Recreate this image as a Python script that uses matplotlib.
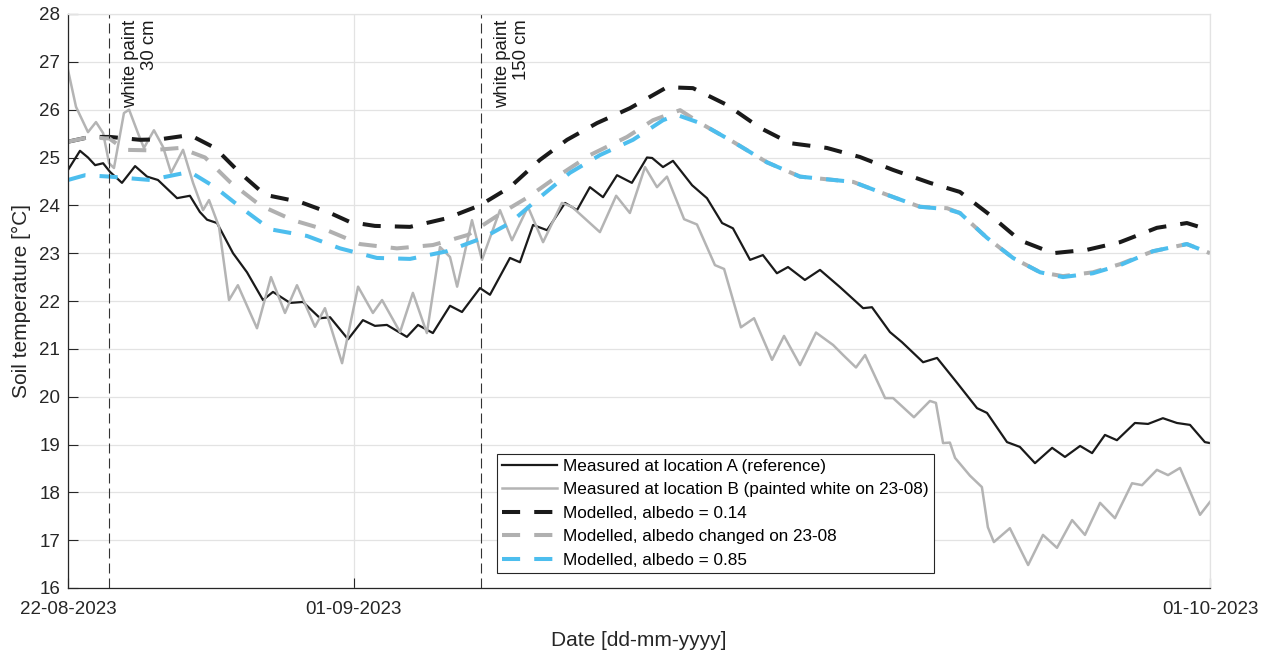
import numpy as np
import pandas as pd
import matplotlib
matplotlib.use("Agg")
import matplotlib.pyplot as plt
import matplotlib.dates as mdates

plt.rcParams["font.family"] = ["Liberation Sans", "DejaVu Sans"]

start = pd.Timestamp("2023-08-22")

# days since 22-08-2023 00:00 and soil temperature [degC]
days_A = [0.00, 0.42, 0.70, 0.95, 1.23, 1.47, 1.89, 2.35, 2.77, 3.15, 3.82, 4.27, 4.62, 4.87, 5.22,
          5.78, 6.27, 6.83, 7.18, 7.78, 8.23, 8.83, 9.18, 9.81, 10.33, 10.75, 11.17, 11.87, 12.26,
          12.78, 13.38, 13.80, 14.43, 14.78, 15.48, 15.83, 16.29, 16.78, 17.41, 17.83, 18.28, 18.74,
          19.23, 19.75, 20.28, 20.46, 20.84, 21.19, 21.86, 22.38, 22.91, 23.29, 23.89, 24.34, 24.83,
          25.22, 25.81, 26.34, 27.04, 27.85, 28.16, 28.79, 29.21, 29.95, 30.44, 31.14, 31.84, 32.19,
          32.89, 33.34, 33.87, 34.47, 34.92, 35.45, 35.87, 36.32, 36.74, 37.37, 37.83, 38.35, 38.84,
          39.30, 39.82, 40.00]
temp_A = [24.74, 25.14, 25.00, 24.84, 24.88, 24.70, 24.47, 24.82, 24.60, 24.53, 24.15, 24.20, 23.86,
          23.70, 23.63, 23.00, 22.60, 22.02, 22.19, 21.96, 21.98, 21.64, 21.66, 21.20, 21.60, 21.48,
          21.50, 21.25, 21.50, 21.33, 21.90, 21.77, 22.27, 22.13, 22.90, 22.81, 23.59, 23.48, 24.05,
          23.90, 24.38, 24.17, 24.63, 24.47, 25.00, 24.99, 24.80, 24.93, 24.42, 24.15, 23.63, 23.52,
          22.86, 22.96, 22.58, 22.71, 22.44, 22.65, 22.29, 21.85, 21.87, 21.35, 21.14, 20.72, 20.81,
          20.29, 19.76, 19.66, 19.05, 18.95, 18.61, 18.93, 18.74, 18.97, 18.82, 19.20, 19.09, 19.45,
          19.43, 19.55, 19.45, 19.41, 19.05, 19.03]

days_B = [0.00, 0.28, 0.70, 0.98, 1.23, 1.44, 1.61, 1.96, 2.14, 2.45, 2.66, 3.01, 3.33, 3.61, 4.03,
          4.38, 4.73, 4.94, 5.29, 5.64, 5.95, 6.62, 7.11, 7.60, 8.02, 8.65, 9.00, 9.60, 10.16, 10.68,
          11.00, 11.63, 12.08, 12.57, 13.03, 13.38, 13.63, 14.15, 14.50, 15.13, 15.55, 16.11, 16.64,
          17.30, 17.65, 18.63, 19.20, 19.68, 20.21, 20.63, 20.98, 21.58, 22.03, 22.66, 22.98, 23.57,
          24.03, 24.66, 25.08, 25.64, 26.20, 26.80, 27.15, 27.60, 27.92, 28.62, 28.90, 29.63, 30.19,
          30.40, 30.65, 30.89, 31.07, 31.59, 32.01, 32.22, 32.43, 32.99, 33.63, 34.15, 34.64, 35.17,
          35.62, 36.15, 36.67, 37.27, 37.62, 38.14, 38.53, 38.95, 39.65, 40.00]
temp_B = [26.83, 26.06, 25.53, 25.74, 25.51, 24.88, 24.78, 25.93, 26.00, 25.51, 25.20, 25.57, 25.22,
          24.68, 25.16, 24.47, 23.90, 24.11, 23.55, 22.02, 22.33, 21.43, 22.50, 21.75, 22.33, 21.46,
          21.85, 20.70, 22.30, 21.75, 22.02, 21.35, 22.17, 21.33, 23.13, 22.92, 22.30, 23.69, 22.86,
          23.90, 23.27, 23.97, 23.23, 24.05, 23.97, 23.44, 24.20, 23.84, 24.80, 24.38, 24.60, 23.71,
          23.60, 22.75, 22.67, 21.45, 21.64, 20.77, 21.27, 20.66, 21.34, 21.08, 20.87, 20.61, 20.87,
          19.97, 19.97, 19.57, 19.91, 19.87, 19.03, 19.04, 18.72, 18.35, 18.11, 17.27, 16.96, 17.25,
          16.48, 17.11, 16.84, 17.42, 17.11, 17.78, 17.46, 18.19, 18.15, 18.47, 18.36, 18.51, 17.53,
          17.80]

days_m014 = [0.00, 0.77, 1.47, 2.52, 3.22, 4.27, 5.15, 6.02, 6.90, 8.13, 9.18, 9.88, 10.75, 11.98,
             13.27, 14.43, 15.48, 16.53, 17.48, 18.53, 19.68, 20.98, 21.89, 23.08, 24.24, 25.29,
             26.58, 27.74, 28.90, 30.19, 31.24, 32.29, 33.34, 34.50, 35.69, 36.85, 38.14, 39.19, 40.00]
temp_m014 = [25.33, 25.43, 25.43, 25.37, 25.38, 25.47, 25.20, 24.68, 24.22, 24.07, 23.84, 23.65,
             23.57, 23.55, 23.73, 24.00, 24.38, 24.95, 25.37, 25.72, 26.03, 26.47, 26.45, 26.10,
             25.62, 25.30, 25.20, 25.01, 24.74, 24.47, 24.28, 23.80, 23.27, 23.00, 23.07, 23.23,
             23.53, 23.63, 23.48]

days_mchg = [0.00, 0.77, 1.30, 1.44, 2.00, 2.87, 3.92, 4.80, 5.67, 6.73, 7.88, 9.07, 10.23, 11.52,
             12.78, 13.02, 14.00, 15.24, 16.11, 17.13, 18.28, 19.58, 20.49, 21.44, 22.14, 23.29,
             24.48, 25.64, 27.50, 28.69, 29.84, 30.79, 31.24, 32.19, 33.10, 34.05, 34.85, 35.90,
             36.85, 38.00, 39.19, 40.00]
temp_mchg = [25.33, 25.43, 25.40, 25.40, 25.16, 25.15, 25.20, 25.00, 24.49, 24.00, 23.69, 23.48,
             23.19, 23.10, 23.17, 23.21, 23.38, 23.86, 24.17, 24.60, 25.05, 25.43, 25.78, 25.99,
             25.72, 25.33, 24.90, 24.60, 24.49, 24.22, 23.97, 23.94, 23.84, 23.32, 22.90, 22.60,
             22.52, 22.60, 22.77, 23.04, 23.19, 23.00]

days_m085 = [0.00, 0.60, 1.47, 2.87, 4.27, 5.15, 6.02, 7.08, 8.37, 9.53, 10.82, 11.98, 13.27, 14.54,
             15.48, 16.53, 17.58, 18.63, 19.79, 20.84, 21.33, 22.14, 23.29, 24.48, 25.64, 27.50,
             28.69, 29.84, 30.79, 31.24, 32.19, 33.10, 34.05, 34.85, 35.90, 36.85, 38.00, 39.19, 40.00]
temp_m085 = [24.53, 24.63, 24.60, 24.53, 24.70, 24.38, 23.97, 23.50, 23.36, 23.10, 22.90, 22.88,
             23.04, 23.32, 23.63, 24.17, 24.68, 25.05, 25.37, 25.78, 25.89, 25.72, 25.33, 24.90,
             24.60, 24.49, 24.22, 23.97, 23.92, 23.84, 23.32, 22.90, 22.60, 22.50, 22.58, 22.75,
             23.04, 23.19, 23.00]

# white paint events (days since start) and labels
paint_days = [1.44, 14.47]
paint_labels = ["white paint\n30 cm", "white paint\n150 cm"]


def to_dates(d):
    return start + pd.to_timedelta(np.asarray(d), unit="D")


fig = plt.figure(figsize=(12.68, 6.52), dpi=100)
ax = fig.add_axes([68 / 1268, 1 - 588 / 652, (1210 - 68) / 1268, (588 - 14) / 652])

ax.set_axisbelow(True)
ax.grid(True, color="#e3e3e3", linewidth=0.9)

ax.plot(to_dates(days_A), temp_A, color="#1a1a1a", lw=1.6, label="Measured at location A (reference)")
ax.plot(to_dates(days_B), temp_B, color="#b4b4b4", lw=1.8, label="Measured at location B (painted white on 23-08)")
ax.plot(to_dates(days_m014), temp_m014, color="#1a1a1a", lw=2.9, dashes=(4.5, 3.5),
        label="Modelled, albedo = 0.14")
ax.plot(to_dates(days_mchg), temp_mchg, color="#b0b0b0", lw=2.9, dashes=(4.5, 3.5),
        label="Modelled, albedo changed on 23-08")
ax.plot(to_dates(days_m085), temp_m085, color="#4dbeee", lw=2.9, dashes=(4.5, 3.5),
        label="Modelled, albedo = 0.85")

for d, txt in zip(paint_days, paint_labels):
    xd = to_dates([d])[0]
    ax.axvline(xd, color="#333333", lw=0.8, dashes=(9, 4.5))
    ax.annotate(txt, xy=(xd, 1), xycoords=("data", "axes fraction"), xytext=(9, -4),
                textcoords="offset points", rotation=90, ha="left", va="top",
                multialignment="right", fontsize=13.3, color="#1a1a1a")

ax.set_xlim(start, start + pd.Timedelta(days=40))
ax.set_ylim(16, 28)
ax.set_yticks(np.arange(16, 29, 1))
ax.set_xticks([start, pd.Timestamp("2023-09-01"), pd.Timestamp("2023-10-01")])
ax.xaxis.set_major_formatter(mdates.DateFormatter("%d-%m-%Y"))

ax.tick_params(direction="in", length=7, width=0.8, colors="#262626", labelsize=13.5)
ax.tick_params(axis="x", pad=9)
ax.tick_params(axis="y", pad=5.5)
for s in ["left", "bottom"]:
    ax.spines[s].set_color("#262626")
    ax.spines[s].set_linewidth(0.9)
for s in ["top", "right"]:
    ax.spines[s].set_color("#e3e3e3")
    ax.spines[s].set_linewidth(0.9)

ax.set_xlabel("Date [dd-mm-yyyy]", fontsize=15, color="#262626", labelpad=10)
ax.set_ylabel("Soil temperature [°C]", fontsize=15, color="#262626", labelpad=6)

leg = ax.legend(loc="lower left", bbox_to_anchor=(0.3757, 0.0261), borderaxespad=0,
                fontsize=12.3, frameon=True, fancybox=False, edgecolor="#262626",
                framealpha=1, handlelength=3.2, handletextpad=0.35, borderpad=0.3,
                labelspacing=0.5)
leg.get_frame().set_linewidth(0.8)

plt.savefig("out.png", dpi=100)
